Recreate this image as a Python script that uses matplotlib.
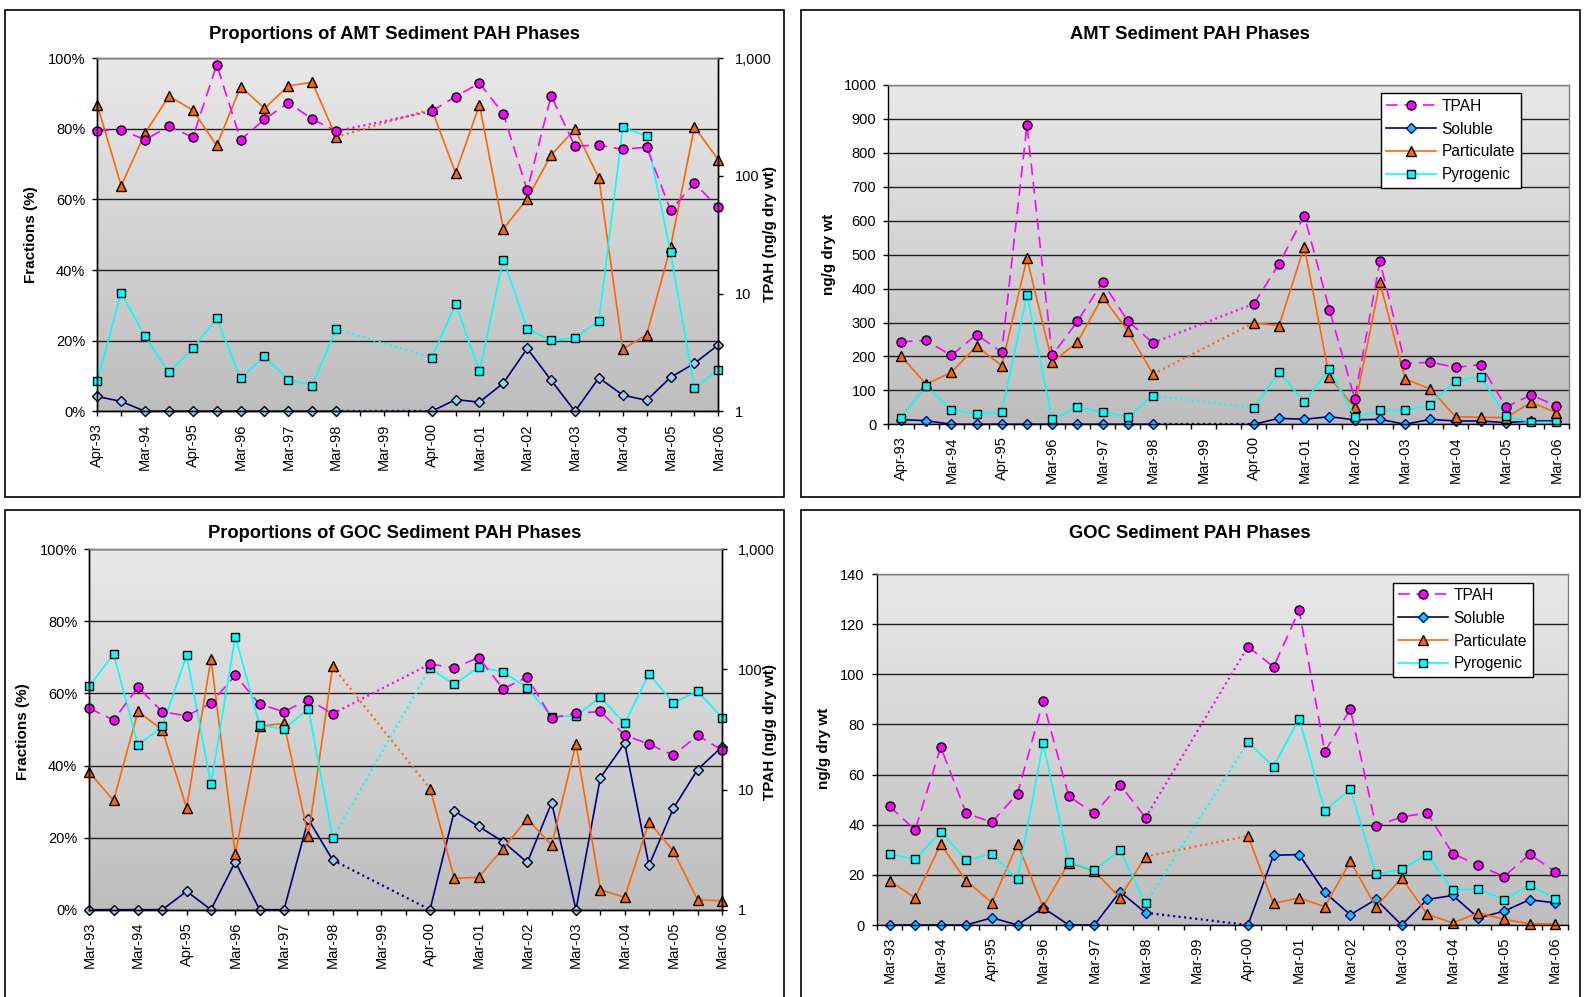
import numpy as np
import matplotlib
matplotlib.use('Agg')
import matplotlib.pyplot as plt
from matplotlib.colors import LinearSegmentedColormap
from matplotlib.lines import Line2D
from matplotlib.patches import Rectangle
from matplotlib.ticker import FixedLocator, FixedFormatter, NullLocator

plt.rcParams['font.family'] = ['Liberation Sans', 'DejaVu Sans']

nan = np.nan
W, H = 1585, 997

# ---------------- data ----------------
amt_labels = ["Apr-93", "Mar-94", "Apr-95", "Mar-96", "Mar-97", "Mar-98", "Mar-99",
              "Apr-00", "Mar-01", "Mar-02", "Mar-03", "Mar-04", "Mar-05", "Mar-06"]
goc_labels = ["Mar-93", "Mar-94", "Apr-95", "Mar-96", "Mar-97", "Mar-98", "Mar-99",
              "Apr-00", "Mar-01", "Mar-02", "Mar-03", "Mar-04", "Mar-05", "Mar-06"]
n_samples = 27

# AMT total PAH (ng/g dry wt)
amt_tpah = [243, 247, 203, 264, 213, 882, 203, 303, 419, 304, 240, nan, nan, nan,
            355, 473, 615, 337, 75.5, 480, 179, 183, 168, 176, 51, 86.5, 54]
# AMT phase fractions (%)
amt_sol_pct = [4.2, 2.8, 0, 0, 0, 0, 0, 0, 0, 0, 0, nan, nan, nan,
               0, 3.3, 2.6, 8.0, 17.8, 8.8, 0, 9.5, 4.6, 3.1, 9.6, 13.6, 18.8]
amt_part_pct = [86.8, 63.9, 78.8, 89.3, 85.3, 75.3, 92.0, 85.8, 92.2, 93.2, 77.7, nan, nan, nan,
                85.6, 67.5, 86.8, 51.7, 60.2, 72.6, 79.9, 66.1, 17.6, 21.7, 46.5, 80.5, 71.3]
amt_pyro_pct = [8.7, 33.6, 21.2, 11.0, 17.8, 26.3, 9.3, 15.6, 9.0, 7.3, 23.3, nan, nan, nan,
                15.2, 30.4, 11.3, 43.0, 23.4, 20.1, 20.9, 25.6, 80.4, 78.0, 45.0, 6.5, 11.8]
# AMT phase concentrations (ng/g dry wt)
amt_sol = [13.8, 10.8, 0, 0, 0, 0, 0, 0, 0, 0, 0, nan, nan, nan,
           0, 17.7, 14.7, 22.6, 13, 14.7, 0, 14.7, 9.8, 9.8, 4.9, 9.8, 9.8]
amt_part = [202, 118, 153, 230, 173, 489, 183, 242, 376, 275, 148, nan, nan, nan,
            299, 291, 524, 138, 50, 418, 134, 104, 22.6, 20.6, 19.6, 64.8, 34.4]
amt_pyro = [19.6, 113, 43, 29.5, 36.3, 382, 14.7, 51, 36.3, 21.6, 84.5, nan, nan, nan,
            49, 153, 65.8, 163, 20.6, 41.3, 41.3, 57, 129, 140, 23.6, 5.9, 5.9]

# GOC total PAH (ng/g dry wt)
goc_tpah = [47.4, 37.9, 71.0, 44.5, 41.0, 52.4, 89.2, 51.3, 44.5, 56.0, 42.8, nan, nan, nan,
            111, 103, 125.5, 69.1, 86.1, 39.4, 43.1, 44.7, 28.4, 23.9, 19.3, 28.2, 21.3]
# GOC phase fractions (%)
goc_sol_pct = [0, 0, 0, 0, 5.1, 0, 13.3, 0, 0, 25.1, 13.8, nan, nan, nan,
               0, 27.4, 23.1, 18.9, 13.1, 29.7, 0, 36.6, 46.2, 12.3, 28.1, 38.9, 45.2]
goc_part_pct = [38.1, 30.3, 55.0, 49.9, 28.2, 69.7, 15.4, 50.9, 51.7, 20.4, 67.5, nan, nan, nan,
                33.6, 8.7, 9.0, 16.9, 25.2, 17.9, 46.1, 5.6, 3.4, 24.3, 16.3, 2.7, 2.5]
goc_pyro_pct = [62.0, 71.0, 45.6, 50.9, 70.6, 34.8, 75.8, 51.2, 50.1, 55.8, 19.8, nan, nan, nan,
                67.0, 62.5, 67.3, 66.0, 61.5, 53.6, 53.7, 59.0, 51.7, 65.4, 57.4, 60.6, 53.3]
# GOC phase concentrations (ng/g dry wt)
goc_sol = [0, 0, 0, 0, 2.9, 0, 6.9, 0, 0, 13.3, 4.9, nan, nan, nan,
           0, 27.8, 28.1, 13.0, 4.1, 10.2, 0, 10.2, 11.8, 2.8, 5.5, 10.1, 8.8]
goc_part = [17.7, 10.8, 32.2, 17.6, 8.9, 32.4, 7.2, 24.9, 21.5, 10.9, 27.3, nan, nan, nan,
            35.5, 8.6, 10.8, 7.3, 25.4, 7.2, 18.8, 4.3, 0.8, 4.9, 2.3, 0.5, 0.4]
goc_pyro = [28.3, 26.2, 37.2, 25.9, 28.3, 18.2, 72.5, 25.3, 21.8, 29.8, 8.6, nan, nan, nan,
            72.9, 63.2, 82.3, 45.6, 54.3, 20.2, 22.2, 28.1, 14.0, 14.4, 10.1, 16.0, 10.4]

series_names = ["TPAH", "Soluble", "Particulate", "Pyrogenic"]

# ---------------- styling ----------------
C_TPAH = '#FF00FF'
C_SOL = '#000080'
C_PART = '#FF6600'
C_PYRO = '#00FFFF'
TICK_FS = 10.5
TICK_LEN = 3.6
TITLE_FS = 13.2
LAB_FS = 11
MS_CIRC = 6.5
MS_TRI = 6.5
MS_SQ = 5.6
MS_DIA = 5.2

grad_cmap = LinearSegmentedColormap.from_list('bg', ['#E9E9E9', '#BDBDBD'])


def rect(x0, y0, x1, y1):
    return [x0 / W, 1 - y1 / H, (x1 - x0) / W, (y1 - y0) / H]


fig = plt.figure(figsize=(W / 100, H / 100), dpi=100)

# panel frames
for (x0, y0, x1, y1) in [(5, 10, 784, 497), (800.7, 10, 1580, 497),
                         (5, 510, 784, 1010), (800.7, 510, 1580, 1010)]:
    fig.patches.append(Rectangle((x0 / W, 1 - y1 / H), (x1 - x0) / W, (y1 - y0) / H,
                                 transform=fig.transFigure, fill=False,
                                 ec='black', lw=1.2))

x = np.arange(n_samples)


def background(ax, xmin, xmax, ymin, ymax):
    grad = np.linspace(0, 1, 256)[:, None]
    ax.imshow(grad, extent=[xmin, xmax, ymin, ymax], aspect='auto', cmap=grad_cmap,
              origin='upper', zorder=0, interpolation='bilinear')
    ax.set_xlim(xmin, xmax)
    ax.set_ylim(ymin, ymax)


def plot_series(ax, y, color, marker, mfc, mec, ms, dashed=False):
    y = np.asarray(y, float)
    ls = (0, (7, 4)) if dashed else '-'
    ax.plot(x, y, color=color, lw=1.2, ls=ls, marker=marker, mfc=mfc, mec=mec,
            ms=ms, mew=1.0, clip_on=False, zorder=4)
    ax.plot([10, 14], [y[10], y[14]], color=color, lw=1.6, ls=(0, (0.9, 1.6)),
            clip_on=False, zorder=3)


def style_spines(ax, right_dark=False):
    ax.spines['left'].set_color('black')
    ax.spines['bottom'].set_color('black')
    ax.spines['top'].set_color('#808080')
    ax.spines['right'].set_color('black' if right_dark else '#808080')
    for s in ax.spines.values():
        s.set_linewidth(1.0)
        s.set_zorder(5)


def set_xticks_on(ax, labels):
    ax.xaxis.set_major_locator(FixedLocator(list(range(n_samples))))
    lab = []
    for i in range(n_samples):
        lab.append(labels[i // 2] if i % 2 == 0 else '')
    ax.xaxis.set_major_formatter(FixedFormatter(lab))
    ax.tick_params(axis='x', direction='out', length=TICK_LEN, width=1, labelsize=TICK_FS,
                   labelrotation=90, pad=5)


def set_xticks_between(ax, labels):
    ax.xaxis.set_major_locator(FixedLocator(list(range(0, n_samples, 2))))
    ax.xaxis.set_major_formatter(FixedFormatter(labels))
    ax.xaxis.set_minor_locator(FixedLocator([i - 0.5 for i in range(n_samples + 1)]))
    ax.tick_params(axis='x', which='major', length=0, labelsize=TICK_FS, labelrotation=90, pad=8.6)
    ax.tick_params(axis='x', which='minor', direction='out', length=TICK_LEN, width=1)


def title_x_for(rect_px):
    return (394.5 if rect_px[0] < 700 else 1190.3) / W


def proportions_panel(rect_px, labels, sol, part, pyro, tpah, title, title_y, ylab_x, ylab_y, y2lab_x):
    ax = fig.add_axes(rect(*rect_px))
    background(ax, 0, n_samples - 1, 0, 100)
    ax.yaxis.set_major_locator(FixedLocator([0, 20, 40, 60, 80, 100]))
    ax.yaxis.set_major_formatter(FixedFormatter(['0%', '20%', '40%', '60%', '80%', '100%']))
    ax.tick_params(axis='y', direction='out', length=TICK_LEN, width=1, labelsize=TICK_FS, pad=5)
    ax.set_axisbelow(True)
    ax.yaxis.grid(True, color='#202020', lw=1.0, zorder=1)
    set_xticks_on(ax, labels)
    plot_series(ax, sol, C_SOL, 'D', '#99CCFF', '#000000', MS_DIA)
    plot_series(ax, part, C_PART, '^', C_PART, '#000000', MS_TRI)
    plot_series(ax, pyro, C_PYRO, 's', C_PYRO, '#000000', MS_SQ)
    ax2 = ax.twinx()
    ax2.set_yscale('log')
    ax2.set_xlim(0, n_samples - 1)
    ax2.set_ylim(1, 1000)
    plot_series(ax2, tpah, C_TPAH, 'o', C_TPAH, '#000000', MS_CIRC, dashed=True)
    ax2.yaxis.set_major_locator(FixedLocator([1, 10, 100, 1000]))
    ax2.yaxis.set_major_formatter(FixedFormatter(['1', '10', '100', '1,000']))
    ax2.yaxis.set_minor_locator(NullLocator())
    ax2.tick_params(axis='y', direction='out', length=TICK_LEN, width=1, labelsize=TICK_FS, pad=8)
    style_spines(ax, right_dark=True)
    style_spines(ax2, right_dark=True)
    fig.text(title_x_for(rect_px), 1 - title_y / H, title, ha='center', va='center',
             fontsize=TITLE_FS, fontweight='bold')
    fig.text(ylab_x / W, 1 - ylab_y / H, 'Fractions (%)', rotation=90, ha='center', va='center',
             fontsize=LAB_FS, fontweight='bold')
    fig.text(y2lab_x / W, 1 - ylab_y / H, 'TPAH (ng/g dry wt)', rotation=90, ha='center',
             va='center', fontsize=LAB_FS, fontweight='bold')
    return ax


def conc_panel(rect_px, labels, sol, part, pyro, tpah, ymax, ystep, title, title_y, ylab_x, ylab_y, leg_xy):
    ax = fig.add_axes(rect(*rect_px))
    background(ax, -0.5, n_samples - 0.5, 0, ymax)
    yt = list(range(0, ymax + 1, ystep))
    ax.yaxis.set_major_locator(FixedLocator(yt))
    ax.yaxis.set_major_formatter(FixedFormatter([str(v) for v in yt]))
    ax.tick_params(axis='y', direction='out', length=TICK_LEN, width=1, labelsize=TICK_FS, pad=5)
    ax.set_axisbelow(True)
    ax.yaxis.grid(True, color='#202020', lw=1.0, zorder=1)
    set_xticks_between(ax, labels)
    plot_series(ax, sol, C_SOL, 'D', '#00CCFF', C_SOL, MS_DIA)
    plot_series(ax, part, C_PART, '^', C_PART, '#000000', MS_TRI)
    plot_series(ax, pyro, C_PYRO, 's', C_PYRO, '#000000', MS_SQ)
    plot_series(ax, tpah, C_TPAH, 'o', C_TPAH, '#000000', MS_CIRC, dashed=True)
    style_spines(ax)
    fig.text(title_x_for(rect_px), 1 - title_y / H, title, ha='center', va='center',
             fontsize=TITLE_FS, fontweight='bold')
    fig.text(ylab_x / W, 1 - ylab_y / H, 'ng/g dry wt', rotation=90, ha='center', va='center',
             fontsize=LAB_FS, fontweight='bold')
    handles = [
        Line2D([], [], color=C_TPAH, lw=1.2, ls=(0, (7, 4)), marker='o', mfc=C_TPAH, mec='black', ms=MS_CIRC),
        Line2D([], [], color=C_SOL, lw=1.2, marker='D', mfc='#00CCFF', mec=C_SOL, ms=MS_DIA),
        Line2D([], [], color=C_PART, lw=1.2, marker='^', mfc=C_PART, mec='black', ms=MS_TRI),
        Line2D([], [], color=C_PYRO, lw=1.2, marker='s', mfc=C_PYRO, mec='black', ms=MS_SQ),
    ]
    leg = ax.legend(handles, series_names, loc='upper left',
                    bbox_to_anchor=(leg_xy[0] / W, 1 - leg_xy[1] / H),
                    bbox_transform=fig.transFigure, fancybox=False, framealpha=1,
                    edgecolor='black', fontsize=11.2, handlelength=3.2, handletextpad=0.35,
                    borderpad=0.35, labelspacing=0.5, borderaxespad=0, numpoints=1)
    leg.get_frame().set_linewidth(1.0)
    leg.set_zorder(10)
    return ax


proportions_panel((97.3, 58.3, 718.3, 411.3), amt_labels, amt_sol_pct, amt_part_pct, amt_pyro_pct,
                  amt_tpah, 'Proportions of AMT Sediment PAH Phases', 34.4, 31.3, 234.5, 770)
conc_panel((888.3, 85.0, 1569.0, 424.3), amt_labels, amt_sol, amt_part, amt_pyro, amt_tpah,
           1000, 100, 'AMT Sediment PAH Phases', 34.4, 829, 254.7, (1381, 93.5))
proportions_panel((89.3, 549.3, 722.0, 909.7), goc_labels, goc_sol_pct, goc_part_pct, goc_pyro_pct,
                  goc_tpah, 'Proportions of GOC Sediment PAH Phases', 533.7, 23.2, 732, 770)
conc_panel((876.7, 574.0, 1568.0, 925.0), goc_labels, goc_sol, goc_part, goc_pyro, goc_tpah,
           140, 20, 'GOC Sediment PAH Phases', 533.7, 824, 748, (1393, 582.5))

fig.savefig('out.png', dpi=100, facecolor='white')
